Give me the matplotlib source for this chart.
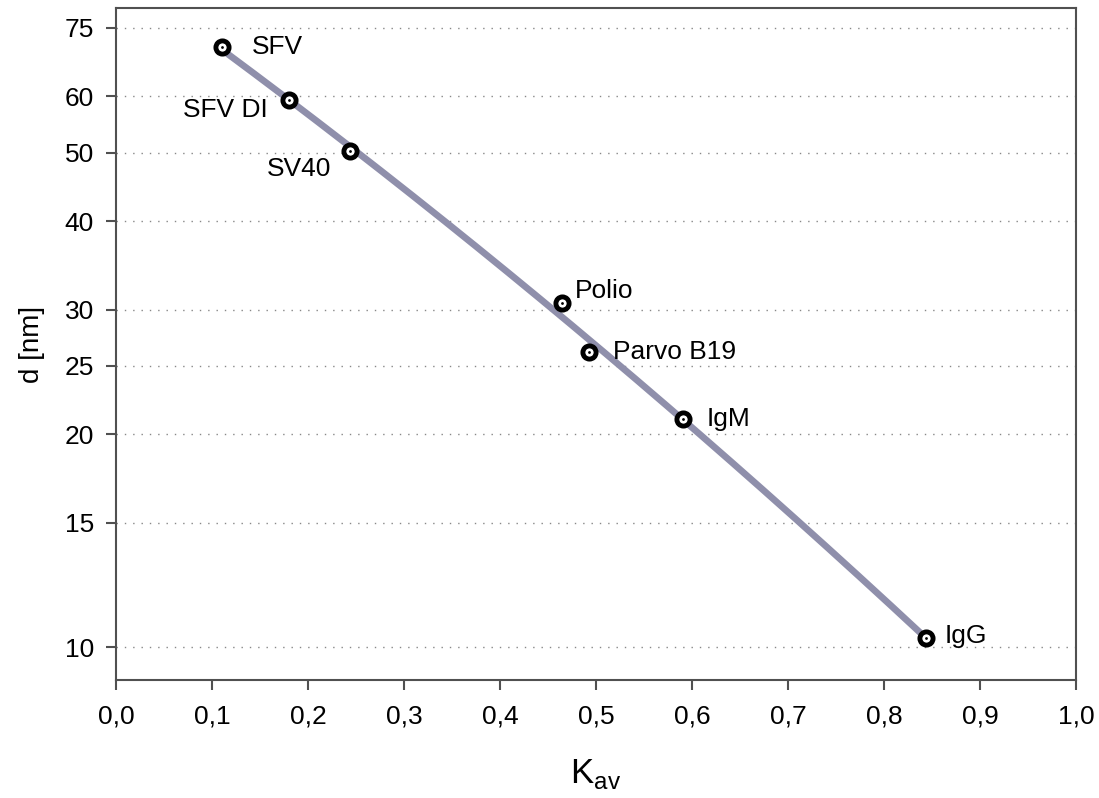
import numpy as np
import matplotlib
matplotlib.use("Agg")
from matplotlib import pyplot as plt
from matplotlib.ticker import FixedLocator, NullLocator

plt.rcParams["font.family"] = ["Liberation Sans", "DejaVu Sans"]
plt.rcParams["mathtext.fontset"] = "custom"
plt.rcParams["mathtext.rm"] = "Liberation Sans"

# samples: K_av and diameter d [nm]
names = ["SFV", "SFV DI", "SV40", "Polio", "Parvo B19", "IgM", "IgG"]
kav = [0.110, 0.180, 0.244, 0.465, 0.493, 0.591, 0.844]
diam = [70.4, 59.3, 50.2, 30.7, 26.1, 21.0, 10.3]

yticks = [10, 15, 20, 25, 30, 40, 50, 60, 75]
xticks = [0.0, 0.1, 0.2, 0.3, 0.4, 0.5, 0.6, 0.7, 0.8, 0.9, 1.0]
xticklabels = ["0,0", "0,1", "0,2", "0,3", "0,4", "0,5", "0,6", "0,7", "0,8", "0,9", "1,0"]

# label offsets in points, and alignment
offsets = [(22, 0), (-15, -7), (-14, -13), (9, 8), (17, 0), (17, 0), (13, 2)]
aligns = ["left", "right", "right", "left", "left", "left", "left"]

# calibration curve: 2nd order fit of log(d) against K_av
coef = np.polyfit(kav, np.log10(diam), 2)
fit_k = np.linspace(min(kav), max(kav), 200)
fit_d = 10 ** np.polyval(coef, fit_k)

fig = plt.figure(figsize=(10.99, 7.98), dpi=100)
ax = fig.add_axes([0.1056, 0.148, 0.8734, 0.842])

ax.plot(fit_k, fit_d, color="#8f8fab", lw=4.8, solid_capstyle="butt", zorder=2)
ax.plot(kav, diam, "o", ms=9.5, mew=3.5, mfc="white", mec="black", zorder=3)
ax.plot(kav, diam, "o", ms=2, mfc="black", mec="black", mew=0, zorder=4)

for name, k, d, off, ha in zip(names, kav, diam, offsets, aligns):
    ax.annotate(name, (k, d), xytext=off, textcoords="offset points",
                ha=ha, va="center", fontsize=19)

ax.set_yscale("log")
ax.set_xlim(0, 1.0)
ax.set_ylim(9.0, 80.0)
ax.yaxis.set_major_locator(FixedLocator(yticks))
ax.yaxis.set_minor_locator(NullLocator())
ax.set_yticklabels([str(t) for t in yticks])
ax.set_xticks(xticks)
ax.set_xticklabels(xticklabels)

ax.grid(axis="y", which="major", color="#888888", lw=1, ls=(0, (1, 5)))
ax.set_axisbelow(True)

for s in ax.spines.values():
    s.set_color("#505050")
    s.set_linewidth(1.5)
ax.tick_params(axis="both", direction="out", length=7, width=1.5, color="#505050",
               labelsize=19, labelcolor="black")
ax.tick_params(axis="y", pad=9)
ax.tick_params(axis="x", pad=11)

ax.set_ylabel("d [nm]", fontsize=20, labelpad=14)
ax.set_xlabel(r"K$_{\mathregular{av}}$", fontsize=25, labelpad=20)

fig.savefig("out.png", dpi=100)
